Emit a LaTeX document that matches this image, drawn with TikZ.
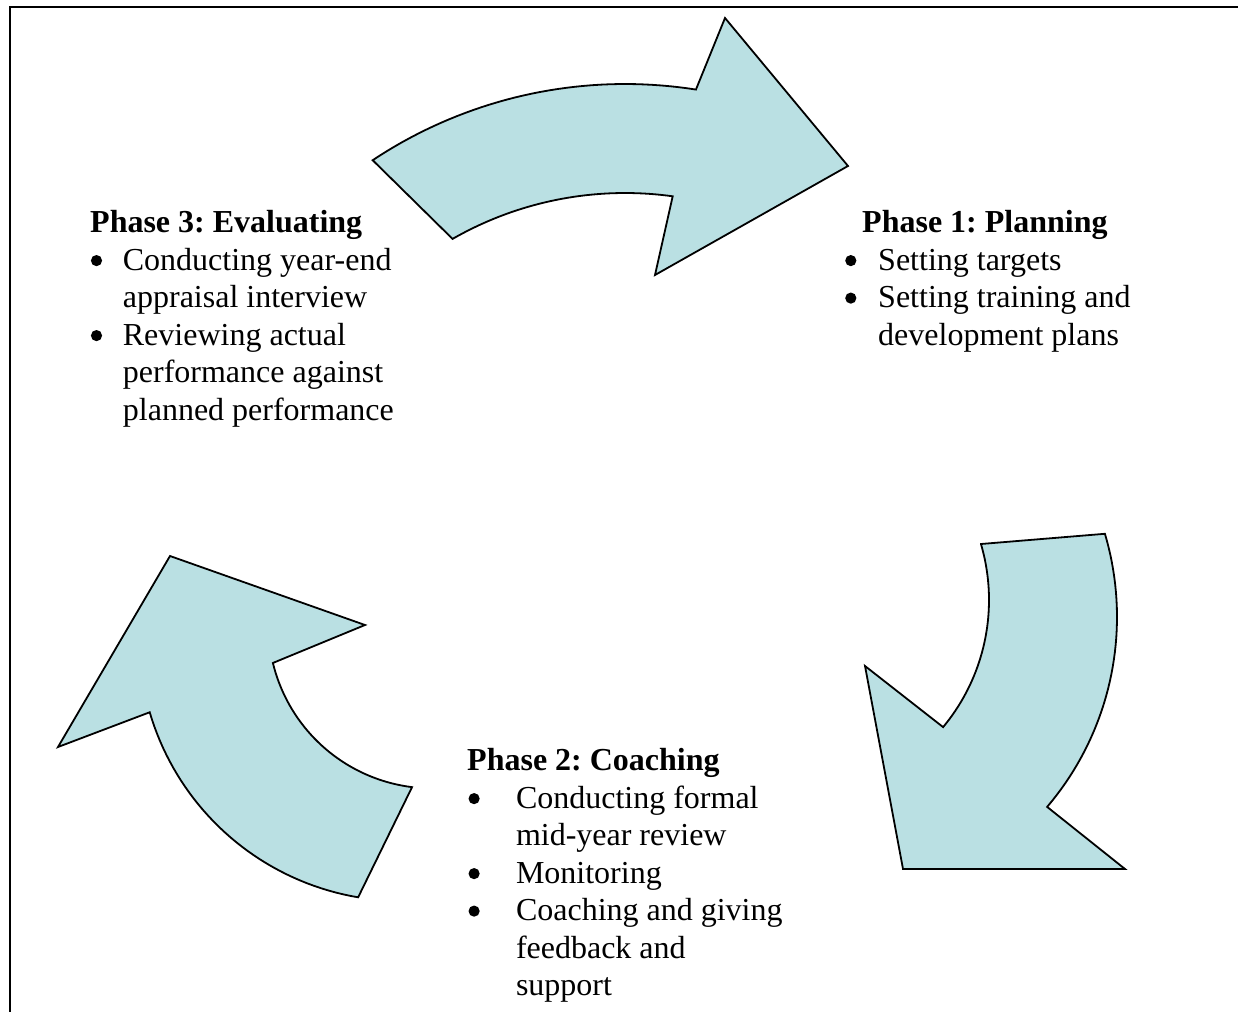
\documentclass[tikz,border=0pt]{standalone}
\usepackage{fontspec}
\setmainfont{Liberation Serif}
\definecolor{arrowfill}{RGB}{186,224,227}
% round list bullet, 11pt across, sitting 4pt above the baseline
\newcommand{\listdot}[1]{\makebox[#1][l]{\raisebox{3.8pt}{\tikz\fill (0,0) circle (5.6pt);}}}
\begin{document}
\frenchspacing
\begin{tikzpicture}[x=1pt,y=-1pt,
  cyclearrow/.style={fill=arrowfill, draw=black, line width=1.8pt, line join=miter},
  frameline/.style={draw=black, line width=2pt},
  heading/.style={anchor=base west, inner sep=0pt, font=\fontsize{32}{37.5}\selectfont\bfseries},
  itemlist/.style={anchor=base west, inner sep=0pt, font=\fontsize{32}{37.5}\selectfont}]
\useasboundingbox (0,0) rectangle (1238,1011);

% page frame (left and top edges)
\draw[frameline] (9.5,1012) -- (9.5,7.3) -- (1239,7.3);

% arrow: Phase 3 -> Phase 1 (top), arcs about (625,540)
\draw[cyclearrow]
  plot[domain=123.6:81.05, samples=40, variable=\t] ({625+456*cos(\t)}, {540-456*sin(\t)})
  -- (725,18) -- (848,166) -- (655,275)
  -- plot[domain=82.1:119.8, samples=40, variable=\t] ({625+347*cos(\t)}, {540-347*sin(\t)})
  -- cycle;

% arrow: Phase 1 -> Phase 2 (right)
\draw[cyclearrow]
  (981,544)
  -- plot[domain=16.5:-40.4, samples=40, variable=\t] ({824+293*cos(\t)}, {617-293*sin(\t)})
  -- (1125,869) -- (903,869) -- (865,666)
  -- plot[domain=-39.7:16.3, samples=40, variable=\t] ({790+199*cos(\t)}, {600-199*sin(\t)})
  -- cycle;

% arrow: Phase 2 -> Phase 3 (left)
\draw[cyclearrow]
  (170,556) -- (365,625)
  -- plot[domain=193.6:262.9, samples=40, variable=\t] ({432.3+164*cos(\t)}, {624.4-164*sin(\t)})
  -- plot[domain=260.4:196.4, samples=40, variable=\t] ({402+263*cos(\t)}, {638-263*sin(\t)})
  -- (58,747) -- cycle;

% Phase 1 text
\node[heading] (p1head) at (862,232) {Phase 1: Planning};
\node[itemlist] (p1list) at (845,270) {\begin{tabular}[t]{@{}l@{}l@{}}
  \listdot{33pt} & Setting targets\\
  \listdot{33pt} & Setting training and\\
  & development plans
\end{tabular}};

% Phase 2 text
\node[heading] (p2head) at (467,770) {Phase 2: Coaching};
\node[itemlist] (p2list) at (468.3,808) {\begin{tabular}[t]{@{}l@{}l@{}}
  \listdot{47.5pt} & Conducting formal\\
  & mid-year review\\
  \listdot{47.5pt} & Monitoring\\
  \listdot{47.5pt} & Coaching and giving\\
  & feedback and\\
  & support
\end{tabular}};

% Phase 3 text
\node[heading] (p3head) at (90,232) {Phase 3: Evaluating};
\node[itemlist] (p3list) at (90.7,270) {\begin{tabular}[t]{@{}l@{}l@{}}
  \listdot{32pt} & Conducting year-end\\
  & appraisal interview\\
  \listdot{32pt} & Reviewing actual\\
  & performance against\\
  & planned performance
\end{tabular}};
\end{tikzpicture}
\end{document}
